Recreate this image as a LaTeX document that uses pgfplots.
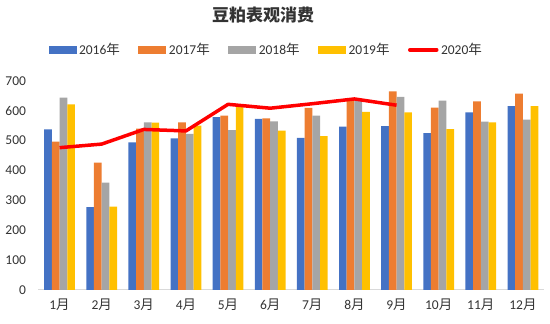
\documentclass[border=0pt]{standalone}
\usepackage{pgfplots}
\usepackage{pgfplotstable}
\pgfplotsset{compat=1.18}
\usepackage{fontspec}
\setmainfont{Carlito}
\newfontfamily\cjk{Noto Sans CJK SC}
\definecolor{cA}{HTML}{4472C4}
\definecolor{cB}{HTML}{ED7D31}
\definecolor{cC}{HTML}{A5A5A5}
\definecolor{cD}{HTML}{FFC000}
\definecolor{cE}{HTML}{FF0000}
\pgfplotstableread{
m y16 y17 y18 y19
1 537 496 643 621
2 277 426 359 279
3 494 540 561 560
4 507 561 522 550
5 578 583 535 612
6 572 574 564 533
7 509 609 583 515
8 546 642 637 596
9 548 664 646 594
10 525 610 633 538
11 594 631 563 561
12 615 657 570 615
}\bars
\pgfplotstableread{
m y20
1 476
2 488
3 537
4 532
5 621
6 608
7 623
8 639
9 618
}\line
\begin{document}
\begin{tikzpicture}[x=1pt,y=1pt]
\useasboundingbox (0,0) rectangle (550,324);
\node[font=\cjk\bfseries\fontsize{17}{19}\selectfont, text=black!80] at (263,309) {豆粕表观消费};
\begin{axis}[
  at={(38.5pt,34pt)}, anchor=south west,
  scale only axis, width=505.5pt, height=209.3pt,
  xmin=0.5, xmax=12.5, ymin=0, ymax=700,
  xtick={1,...,12},
  xticklabels={1{\cjk 月},2{\cjk 月},3{\cjk 月},4{\cjk 月},5{\cjk 月},6{\cjk 月},7{\cjk 月},8{\cjk 月},9{\cjk 月},10{\cjk 月},11{\cjk 月},12{\cjk 月}},
  ytick={0,100,...,700},
  axis lines=left,
  x axis line style={draw=black!15, line width=1pt, -},
  y axis line style={draw=none},
  major tick length=0pt,
  tick style={draw=none},
  /pgf/number format/assume math mode=true,
  ticklabel style={font=\fontsize{13.5}{15}\selectfont, text=black!80},
  yticklabel style={xshift=-9pt},
  xticklabel style={yshift=-5pt},
  legend columns=5,
  legend style={at={(0.45,1.147)}, anchor=center, draw=none, fill=none,
    font=\fontsize{13.5}{15}\selectfont, text=black!80,
    nodes={inner sep=1.5pt},
    /tikz/every odd column/.append style={column sep=1pt},
    /tikz/every even column/.append style={column sep=17pt}},
  legend image code/.code={\path[#1,draw=none] (0pt,-4pt) rectangle (28pt,4pt);},
]
\addplot[ybar, bar width=7.7pt, bar shift=-11.55pt, fill=cA, draw=none] table[x=m,y=y16] {\bars};
\addlegendentry{2016{\cjk 年}}
\addplot[ybar, bar width=7.7pt, bar shift=-3.85pt, fill=cB, draw=none] table[x=m,y=y17] {\bars};
\addlegendentry{2017{\cjk 年}}
\addplot[ybar, bar width=7.7pt, bar shift=3.85pt, fill=cC, draw=none] table[x=m,y=y18] {\bars};
\addlegendentry{2018{\cjk 年}}
\addplot[ybar, bar width=7.7pt, bar shift=11.55pt, fill=cD, draw=none] table[x=m,y=y19] {\bars};
\addlegendentry{2019{\cjk 年}}
\addplot[sharp plot, cE, line width=3.5pt, mark=none, line join=round,
  legend image code/.code={\draw[cE, line width=3.5pt, line cap=round] (1pt,0pt) -- (28pt,0pt);}] table[x=m,y=y20] {\line};
\addlegendentry{2020{\cjk 年}}
\end{axis}
\end{tikzpicture}
\end{document}
